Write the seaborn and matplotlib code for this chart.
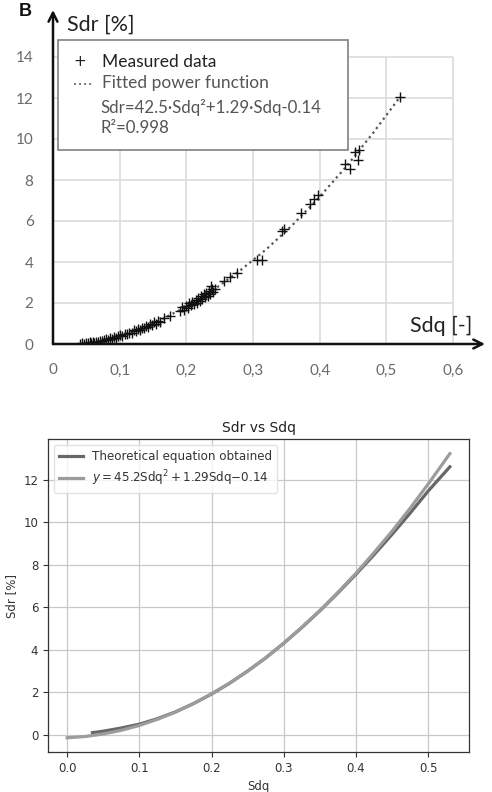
import matplotlib
matplotlib.use("Agg")
import matplotlib.pyplot as plt
import seaborn as sns
from matplotlib.patches import Rectangle

# ---------------- data: panel B (measured) ----------------
meas_x = [0.040, 0.043, 0.046, 0.049, 0.052, 0.055, 0.057, 0.060, 0.062, 0.065, 0.068,
          0.071, 0.074, 0.077, 0.080, 0.083, 0.086, 0.089, 0.092, 0.095, 0.098,
          0.101, 0.104, 0.108, 0.111, 0.114, 0.118, 0.121, 0.124, 0.127, 0.130, 0.133,
          0.136, 0.139, 0.142, 0.145, 0.148, 0.151, 0.154, 0.157, 0.160, 0.167, 0.176,
          0.191, 0.194, 0.197, 0.199, 0.202, 0.204, 0.207, 0.209, 0.211, 0.214, 0.216,
          0.218, 0.220, 0.222, 0.224, 0.226, 0.228, 0.230, 0.232, 0.234, 0.236, 0.237,
          0.238, 0.240, 0.243,
          0.256, 0.266, 0.276,
          0.306, 0.314,
          0.343, 0.347,
          0.372, 0.386, 0.391, 0.398,
          0.438, 0.446, 0.453, 0.458, 0.459,
          0.520]
meas_y = [0.02, 0.03, 0.00, 0.05, 0.04, 0.08, 0.03, 0.10, 0.07, 0.12, 0.10,
          0.15, 0.13, 0.20, 0.22, 0.18, 0.28, 0.25, 0.33, 0.30, 0.38,
          0.42, 0.38, 0.50, 0.47, 0.56, 0.55, 0.66, 0.62, 0.72, 0.70, 0.80,
          0.78, 0.88, 0.85, 0.96, 0.92, 1.05, 0.98, 1.12, 1.08, 1.25, 1.38,
          1.62, 1.80, 1.68, 1.85, 1.75, 2.00, 1.88, 2.05, 1.95, 2.15, 2.02,
          2.25, 2.12, 2.35, 2.20, 2.42, 2.28, 2.50, 2.35, 2.60, 2.45, 2.85,
          2.70, 2.55, 2.68,
          3.05, 3.25, 3.45,
          4.10, 4.10,
          5.50, 5.60,
          6.40, 6.85, 7.05, 7.25,
          8.80, 8.55, 9.35, 9.00, 9.45,
          12.05]

fit_x = [0.04, 0.08, 0.12, 0.16, 0.20, 0.24, 0.28, 0.32, 0.36, 0.40, 0.44, 0.48, 0.52]
fit_y = [-0.02, 0.24, 0.63, 1.15, 1.82, 2.62, 3.57, 4.62, 5.83, 7.18, 8.66, 10.29, 12.03]

top_xticks = [0, 0.1, 0.2, 0.3, 0.4, 0.5, 0.6]
top_xlabels = ["0", "0,1", "0,2", "0,3", "0,4", "0,5", "0,6"]
top_yticks = [0, 2, 4, 6, 8, 10, 12, 14]

# ---------------- data: bottom panel ----------------
theo_x = [0.035, 0.05, 0.075, 0.10, 0.125, 0.15, 0.175, 0.20, 0.225, 0.25, 0.275,
          0.30, 0.325, 0.35, 0.375, 0.40, 0.425, 0.45, 0.475, 0.50, 0.53]
theo_y = [0.10, 0.17, 0.32, 0.50, 0.76, 1.08, 1.47, 1.92, 2.43, 3.00, 3.62,
          4.31, 5.05, 5.84, 6.68, 7.56, 8.48, 9.44, 10.44, 11.48, 12.62]
quad_x = [0.00, 0.025, 0.05, 0.075, 0.10, 0.125, 0.15, 0.175, 0.20, 0.225, 0.25, 0.275,
          0.30, 0.325, 0.35, 0.375, 0.40, 0.425, 0.45, 0.475, 0.50, 0.53]
quad_y = [-0.14, -0.08, 0.04, 0.21, 0.44, 0.73, 1.07, 1.47, 1.93, 2.43, 3.01, 3.63,
          4.32, 5.07, 5.85, 6.71, 7.61, 8.58, 9.59, 10.67, 11.81, 13.24]

bottom_xticks = [0.0, 0.1, 0.2, 0.3, 0.4, 0.5]
bottom_yticks = [0, 2, 4, 6, 8, 10, 12]

W, H = 492, 792
fig = plt.figure(figsize=(W / 100, H / 100), dpi=100)
fig.patch.set_facecolor("white")

def fx(px):
    return px / W

def fy(py):
    return 1 - py / H

# ================= TOP PANEL =================
topfont = "Lato"
x0p, x1p, y0p, y1p = 53, 485, 344, 10
axT = fig.add_axes([fx(x0p), fy(y0p), (x1p - x0p) / W, (y0p - y1p) / H])
xpx_per = 666.7
ypx_per = 20.5
axT.set_xlim(0, (x1p - x0p) / xpx_per)
axT.set_ylim(0, (y0p - y1p) / ypx_per)
axT.set_facecolor("white")
for s in axT.spines.values():
    s.set_visible(False)

gridc = "#dcdcdc"
axT.hlines(top_yticks[1:], 0, 0.6, color=gridc, lw=1.2, zorder=0)
axT.vlines(top_xticks[1:], 0, 14, color=gridc, lw=1.2, zorder=0)

sns.lineplot(x=fit_x, y=fit_y, ax=axT, color="#555555", lw=1.6,
             linestyle=(0, (1, 1.6)), zorder=2)
sns.scatterplot(x=meas_x, y=meas_y, ax=axT, marker="+", color="#111111",
                s=45, linewidth=1.0, zorder=3)

axT.annotate("", xy=(axT.get_xlim()[1], 0), xytext=(0, 0),
             arrowprops=dict(arrowstyle="->", lw=1.8, color="#111111",
                             mutation_scale=16, shrinkA=0, shrinkB=0),
             annotation_clip=False, zorder=4)
axT.annotate("", xy=(0, axT.get_ylim()[1]), xytext=(0, 0),
             arrowprops=dict(arrowstyle="->", lw=1.8, color="#111111",
                             mutation_scale=16, shrinkA=0, shrinkB=0),
             annotation_clip=False, zorder=4)

axT.set_xticks(top_xticks)
axT.set_xticklabels(top_xlabels)
axT.set_yticks(top_yticks)
axT.tick_params(axis="both", length=0, labelcolor="#6a6a6a", labelsize=11)
axT.tick_params(axis="x", pad=14)
axT.tick_params(axis="y", pad=14)
for lab in axT.get_xticklabels() + axT.get_yticklabels():
    lab.set_family(topfont)

fig.text(fx(67), fy(25), "Sdr [%]", family=topfont, fontsize=15.5,
         color="#222222", ha="left", va="center")
fig.text(fx(472), fy(326), "Sdq [-]", family=topfont, fontsize=15.5,
         color="#222222", ha="right", va="center")
fig.text(fx(25), fy(12), "B", family="Liberation Sans", fontweight="bold",
         fontsize=13, color="#111111", ha="center", va="center")

# legend box
fig.patches.append(Rectangle((fx(58), fy(150)), (348 - 58) / W, (150 - 40) / H,
                             transform=fig.transFigure, facecolor="white",
                             edgecolor="#808080", lw=1.2, zorder=5))
lcol = "#555555"
fig.text(fx(80), fy(62), "+", family="DejaVu Sans", fontsize=11, color="#222222",
         ha="center", va="center", zorder=6)
fig.text(fx(102), fy(62), "Measured data", family=topfont, fontsize=12.5,
         color="#222222", ha="left", va="center", zorder=6)
fig.lines.append(plt.Line2D([fx(74), fx(94)], [fy(84), fy(84)],
                            transform=fig.transFigure, color="#777777", lw=1.4,
                            linestyle=(0, (1, 1.6)), zorder=6))
fig.text(fx(102), fy(83), "Fitted power function", family=topfont, fontsize=12.5,
         color=lcol, ha="left", va="center", zorder=6)
fig.text(fx(100), fy(107), "Sdr=42.5·Sdq²+1.29·Sdq-0.14", family=topfont,
         fontsize=12.2, color=lcol, ha="left", va="center", zorder=6)
fig.text(fx(100), fy(128), "R²=0.998", family=topfont, fontsize=12.2,
         color=lcol, ha="left", va="center", zorder=6)

# ================= BOTTOM PANEL =================
axB = fig.add_axes([fx(48), fy(752), (469 - 48) / W, (752 - 439) / H])
sns.lineplot(x=theo_x, y=theo_y, ax=axB, color="#676767", lw=2.3,
             label="Theoretical equation obtained", zorder=3)
sns.lineplot(x=quad_x, y=quad_y, ax=axB, color="#9c9c9c", lw=2.3,
             label=r"$y = 45.2\mathrm{Sdq}^2 + 1.29\mathrm{Sdq}{-}0.14$", zorder=4)
axB.set_xlim(-0.0265, 0.5565)
axB.set_ylim(-0.81, 13.93)
axB.set_xticks(bottom_xticks)
axB.set_xticklabels([f"{v:.1f}" for v in bottom_xticks])
axB.set_yticks(bottom_yticks)
axB.grid(True, color="#c8c8c8", lw=0.9)
axB.set_axisbelow(True)
for s in axB.spines.values():
    s.set_color("#333333")
    s.set_linewidth(0.9)
axB.tick_params(axis="both", labelsize=8.5, colors="#333333", length=3.5, width=0.8)
axB.set_xlabel("Sdq", fontsize=8.5, color="#333333", family="DejaVu Sans")
axB.set_ylabel("Sdr [%]", fontsize=8.5, color="#333333", family="DejaVu Sans")
axB.set_title("Sdr vs Sdq", fontsize=10, color="#222222", family="DejaVu Sans", pad=5)
leg = axB.legend(loc="upper left", fontsize=8.6, frameon=True, handlelength=2.0,
                 borderpad=0.4, labelspacing=0.5)
leg.get_frame().set_edgecolor("#dddddd")
leg.get_frame().set_alpha(0.8)
for t in leg.get_texts():
    t.set_color("#333333")

fig.savefig("out.png", dpi=100, facecolor="white")
